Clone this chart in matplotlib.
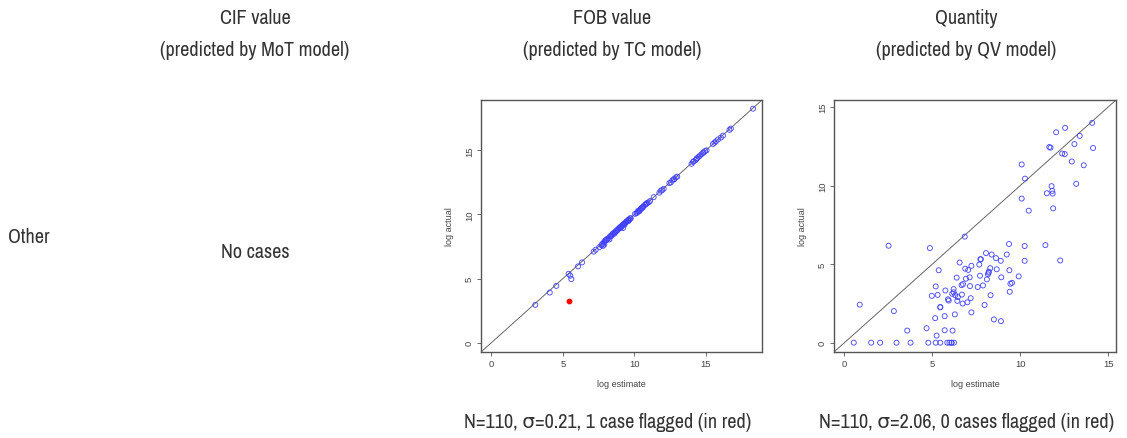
import matplotlib
matplotlib.use("Agg")
import matplotlib.pyplot as plt
from matplotlib import font_manager

# ---------------- data ----------------
col_titles = ["CIF value", "FOB value", "Quantity"]
col_subtitles = ["(predicted by MoT model)", "(predicted by TC model)", "(predicted by QV model)"]
row_label = "Other"
empty_text = "No cases"
captions = ["N=110, σ=0.21, 1 case flagged (in red)",
            "N=110, σ=2.06, 0 cases flagged (in red)"]

# TC model (FOB value): log estimate vs log actual
tc_est = [3.07, 4.08, 4.54, 5.40, 5.52, 5.59, 6.06, 6.34, 7.15, 7.30, 7.55, 7.70,
          7.75, 7.85, 7.90, 7.95, 8.00, 8.05, 8.10, 8.20, 8.30, 8.35, 8.40, 8.45,
          8.50, 8.55, 8.65, 8.70, 8.75, 8.80, 8.85, 8.90, 8.95, 9.00, 9.05, 9.10,
          9.15, 9.20, 9.22, 9.25, 9.30, 9.35, 9.40, 9.45, 9.50, 9.55, 9.60, 9.65,
          9.70, 9.75, 10.05, 10.15, 10.20, 10.25, 10.30, 10.40, 10.45, 10.50, 10.55,
          10.60, 10.65, 10.75, 10.80, 10.85, 10.90, 11.00, 11.10, 11.35, 11.75,
          11.85, 11.95, 12.05, 12.45, 12.55, 12.65, 12.75, 12.80, 12.90, 13.00,
          14.00, 14.10, 14.15, 14.30, 14.35, 14.40, 14.50, 14.60, 14.70, 14.80,
          14.85, 14.95, 15.05, 15.50, 15.60, 15.70, 15.85, 16.05, 16.20, 16.65,
          16.75, 18.30, 7.80, 7.90, 8.60, 9.05, 9.30, 10.35, 8.25, 9.60]
tc_act = [2.95, 3.91, 4.43, 5.37, 5.22, 4.96, 5.95, 6.26, 7.10, 7.25, 7.45, 7.60,
          7.70, 7.80, 7.85, 7.95, 8.00, 8.00, 8.10, 8.15, 8.30, 8.30, 8.35, 8.45,
          8.50, 8.55, 8.60, 8.70, 8.70, 8.80, 8.80, 8.90, 8.95, 9.00, 9.05, 9.05,
          9.15, 9.20, 8.95, 9.25, 9.30, 9.30, 9.40, 9.45, 9.45, 9.55, 9.60, 9.60,
          9.70, 9.70, 10.05, 10.10, 10.15, 10.25, 10.30, 10.35, 10.45, 10.50, 10.50,
          10.60, 10.65, 10.75, 10.80, 10.85, 10.90, 10.95, 11.05, 11.35, 11.70,
          11.85, 11.90, 12.00, 12.45, 12.50, 12.65, 12.75, 12.75, 12.90, 12.95,
          13.95, 14.10, 14.15, 14.25, 14.35, 14.40, 14.50, 14.60, 14.70, 14.80,
          14.85, 14.95, 15.00, 15.50, 15.60, 15.70, 15.85, 16.00, 16.15, 16.60,
          16.70, 18.25, 7.55, 7.65, 8.50, 8.95, 9.20, 10.25, 8.05, 9.50]
tc_flag_est = [5.45]
tc_flag_act = [3.26]

# QV model (Quantity): log estimate vs log actual
qv_est = [0.53, 1.52, 2.03, 2.96, 3.76, 4.77, 5.19, 5.45, 5.85, 5.97, 6.08, 6.23,
          0.87, 2.81, 2.51, 4.86, 3.57, 4.67, 5.24, 5.16, 5.70, 6.15, 5.70, 6.28,
          5.45, 4.97, 5.19, 5.30, 5.36, 5.74, 5.89, 5.93, 6.13, 6.21, 6.21, 6.30,
          6.38, 6.42, 6.55, 6.66, 6.68, 6.72, 6.74, 6.87, 6.91, 6.99, 7.04, 7.12,
          7.14, 7.18, 7.22, 7.22, 6.84, 7.58, 7.67, 7.71, 7.73, 7.76, 7.88, 7.97,
          8.05, 8.10, 8.16, 8.21, 8.29, 8.31, 8.37, 8.50, 8.62, 8.66, 8.89, 8.92,
          8.90, 9.23, 9.36, 9.38, 9.40, 9.44, 9.53, 9.91, 10.08, 10.08, 10.25,
          10.25, 10.27, 10.48, 11.43, 11.51, 11.65, 11.72, 11.78, 11.82, 11.84,
          11.87, 12.04, 12.27, 12.38, 12.53, 12.55, 12.93, 13.08, 13.18, 13.38,
          13.61, 14.09, 14.14, 6.10, 5.45, 6.45, 8.20]
qv_act = [0.00, 0.00, 0.00, 0.00, 0.00, 0.00, 0.00, 0.00, 0.00, 0.00, 0.00, 0.00,
          2.42, 2.01, 6.17, 6.02, 0.77, 0.92, 0.45, 1.56, 0.79, 0.77, 1.69, 1.80,
          2.27, 2.98, 3.58, 3.04, 4.61, 3.32, 2.76, 2.68, 3.11, 3.41, 3.21, 3.02,
          4.14, 2.66, 5.10, 3.66, 3.06, 2.49, 3.73, 4.71, 4.07, 2.57, 4.63, 4.16,
          3.60, 2.83, 1.93, 4.89, 6.75, 3.54, 4.97, 4.26, 5.31, 5.31, 3.64, 2.40,
          5.70, 4.03, 4.35, 4.52, 4.74, 3.02, 5.61, 1.48, 5.38, 4.67, 5.21, 4.16,
          1.37, 5.61, 6.28, 4.61, 3.24, 3.75, 3.81, 4.22, 9.17, 11.34, 6.15,
          5.21, 10.44, 8.40, 6.21, 9.51, 12.45, 12.41, 9.96, 9.66, 9.49,
          8.55, 13.39, 5.23, 12.04, 12.00, 13.67, 11.53, 12.64, 10.11, 13.16,
          11.29, 13.99, 12.39, 0.00, 2.25, 2.90, 4.45]

tc_lim = [0.0, 18.2]
qv_lim = [0.0, 14.85]
tc_ticks = [0, 5, 10, 15]
qv_ticks = [0, 5, 10, 15]
x_label = "log estimate"
y_label = "log actual"

# ---------------- fonts ----------------
narrow_family = None
for f in font_manager.fontManager.ttflist:
    if "Narrow" in f.name or "Condensed" in f.name:
        narrow_family = f.name
        break
if narrow_family is None:
    narrow_family = "DejaVu Sans"
    fs = 12.5
else:
    fs = 14.5

plain = ["Liberation Sans", "DejaVu Sans"]
plt.rcParams["font.family"] = plain

W, H = 1127, 439
fig = plt.figure(figsize=(W / 100, H / 100), dpi=100)


def fx(px):
    return px / W


def fy(py):
    return 1 - py / H


text_color = "#333333"
tkw = dict(fontsize=fs, color=text_color, family=[narrow_family, "DejaVu Sans"])
for cx, t, s in zip([255, 612, 966], col_titles, col_subtitles):
    fig.text(fx(cx), fy(18), t, ha="center", va="center", **tkw)
    fig.text(fx(cx), fy(50), s, ha="center", va="center", **tkw)

fig.text(fx(8), fy(238), row_label, ha="left", va="center", **tkw)
fig.text(fx(255), fy(253), empty_text, ha="center", va="center", **tkw)
fig.text(fx(608), fy(423), captions[0], ha="center", va="center", **tkw)
fig.text(fx(967), fy(423), captions[1], ha="center", va="center", **tkw)


def make_panel(left, right, est, act, lim, ticks, flag_est=None, flag_act=None):
    ax = fig.add_axes([fx(left), fy(353), fx(right - left), (353 - 101) / H])
    ext = (lim[1] - lim[0]) * 0.04
    ax.set_xlim(lim[0] - ext, lim[1] + ext)
    ax.set_ylim(lim[0] - ext, lim[1] + ext)
    ax.axline((0, 0), slope=1, color="#666666", lw=0.7, zorder=1)
    ax.scatter(est, act, s=13, facecolors="none", edgecolors="#4040ff", linewidths=0.6, zorder=2)
    if flag_est:
        ax.scatter(flag_est, flag_act, s=10, color="#ff0000", zorder=3)
    ax.set_xticks(ticks)
    ax.set_yticks(ticks)
    ax.tick_params(axis="both", labelsize=6.8, length=3, width=0.6, colors="#555555",
                   labelcolor="#444444", pad=2)
    for lbl in ax.get_yticklabels():
        lbl.set_rotation(90)
        lbl.set_va("center")
    for sp in ax.spines.values():
        sp.set_color("#555555")
        sp.set_linewidth(1.0)
    ax.set_xlabel(x_label, fontsize=6.5, color="#444444", labelpad=8)
    ax.set_ylabel(y_label, fontsize=6.5, color="#444444", labelpad=8)
    return ax


make_panel(481, 762, tc_est, tc_act, tc_lim, tc_ticks, tc_flag_est, tc_flag_act)
make_panel(834, 1116, qv_est, qv_act, qv_lim, qv_ticks)

fig.savefig("out.png", dpi=100)
